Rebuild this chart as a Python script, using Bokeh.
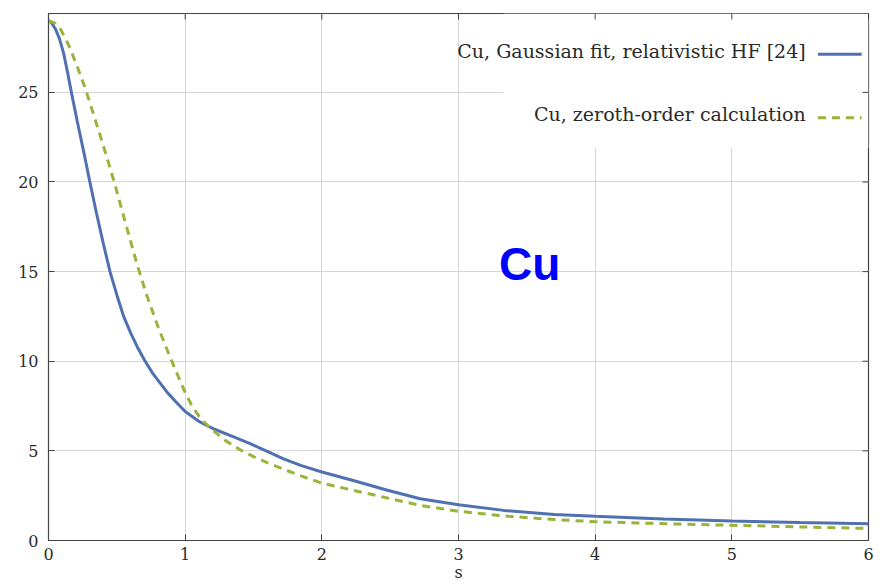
import math
from bokeh.plotting import figure
from bokeh.models import Range1d, FixedTicker, Label, BoxAnnotation
from bokeh.embed import file_html
from bokeh.resources import INLINE

# ---- data ----
s_fit = [0.0, 0.02, 0.05, 0.08, 0.11, 0.14, 0.17, 0.21, 0.26, 0.30, 0.35, 0.40, 0.45,
         0.50, 0.55, 0.60, 0.65, 0.70, 0.76, 0.82, 0.87, 0.93, 1.00, 1.10, 1.21, 1.35,
         1.48, 1.60, 1.72, 1.85, 2.00, 2.23, 2.48, 2.72, 3.00, 3.33, 3.70, 4.00, 4.50,
         5.00, 5.50, 6.00]
f_fit = [29.0, 28.9, 28.55, 28.0, 27.2, 26.1, 24.9, 23.4, 21.6, 20.1, 18.3, 16.6, 15.0,
         13.7, 12.5, 11.6, 10.8, 10.1, 9.35, 8.75, 8.25, 7.75, 7.2, 6.65, 6.22, 5.80,
         5.39, 4.97, 4.55, 4.18, 3.82, 3.35, 2.80, 2.33, 2.00, 1.68, 1.45, 1.35, 1.20,
         1.09, 1.00, 0.94]

s_zero = [0.0, 0.05, 0.09, 0.15, 0.21, 0.27, 0.32, 0.38, 0.44, 0.49, 0.56, 0.65, 0.72,
          0.80, 0.87, 0.93, 1.00, 1.05, 1.10, 1.15, 1.21, 1.30, 1.40, 1.50, 1.60, 1.72,
          1.84, 2.00, 2.23, 2.48, 2.72, 3.00, 3.33, 3.70, 4.00, 4.50, 5.00, 5.50, 6.00]
f_zero = [29.0, 28.85, 28.5, 27.6, 26.45, 25.2, 24.0, 22.55, 21.05, 19.75, 17.8, 15.35,
          13.65, 11.95, 10.6, 9.5, 8.25, 7.5, 6.95, 6.52, 6.1, 5.55, 5.07, 4.68, 4.35,
          3.98, 3.62, 3.2, 2.80, 2.37, 1.96, 1.63, 1.37, 1.17, 1.05, 0.94, 0.85, 0.76,
          0.67]

x_ticks = [0, 1, 2, 3, 4, 5, 6]
y_ticks = [0, 5, 10, 15, 20, 25]
x_max, y_max = 6, 29.4

label_fit = "Cu, Gaussian fit, relativistic HF [24]"
label_zero = "Cu, zeroth-order calculation"
big_label = "Cu"
x_label = "s"

BLUE = "#5071B1"
GREEN = "#98B43A"
AXIS = "#444444"
SERIF = "DejaVu Serif"

p = figure(width=893, height=584, x_range=Range1d(0, x_max), y_range=Range1d(0, y_max),
           output_backend="svg", toolbar_location=None,
           min_border_left=48, min_border_right=25, min_border_top=13, min_border_bottom=42)
p.background_fill_color = "white"
p.border_fill_color = "white"
p.outline_line_color = AXIS
p.outline_line_width = 1.2

xt = FixedTicker(ticks=x_ticks)
yt = FixedTicker(ticks=y_ticks)

for ax, t in ((p.xaxis[0], xt), (p.yaxis[0], yt)):
    ax.ticker = t
    ax.major_tick_in = 6
    ax.major_tick_out = 0
    ax.minor_tick_in = 0
    ax.minor_tick_out = 0
    ax.axis_line_color = AXIS
    ax.major_tick_line_color = AXIS
    ax.major_label_text_font = SERIF
    ax.major_label_text_font_size = "16px"
    ax.major_label_text_color = "#2a2a2a"
p.xaxis[0].major_label_standoff = 7
p.yaxis[0].major_label_standoff = 10
p.xaxis[0].axis_label = x_label
p.xaxis[0].axis_label_text_font = SERIF
p.xaxis[0].axis_label_text_font_style = "normal"
p.xaxis[0].axis_label_text_font_size = "16px"
p.xaxis[0].axis_label_text_color = "#2a2a2a"
p.xaxis[0].axis_label_standoff = 0

p.xgrid.ticker = xt
p.ygrid.ticker = yt
p.grid.grid_line_color = "#d6d6d6"
p.grid.grid_line_width = 1

# white panel behind the legend (hides grid lines)
p.add_layout(BoxAnnotation(left=3.33, bottom=21.9, fill_color="white", fill_alpha=1.0,
                           line_alpha=0, level="glyph"))

p.line(s_fit, f_fit, line_color=BLUE, line_width=3)
p.line(s_zero, f_zero, line_color=GREEN, line_width=3, line_dash="8 6")

# mirrored inward ticks on the top and right frame edges
p.ray(x=x_ticks, y=[y_max] * len(x_ticks), length=6, length_units="screen",
      angle=-math.pi / 2, line_color=AXIS, line_width=1, level="overlay")
p.ray(x=[x_max] * len(y_ticks), y=y_ticks, length=6, length_units="screen",
      angle=math.pi, line_color=AXIS, line_width=1, level="overlay")

# legend (label left, sample right)
p.add_layout(Label(x=5.54, y=27.31, text=label_fit, text_align="right",
                   text_baseline="alphabetic", text_font=SERIF, text_font_size="19px",
                   text_color="#2a2a2a"))
p.add_layout(Label(x=5.54, y=23.78, text=label_zero, text_align="right",
                   text_baseline="alphabetic", text_font=SERIF, text_font_size="19px",
                   text_color="#2a2a2a"))
p.line([5.63, 5.95], [27.13, 27.13], line_color=BLUE, line_width=3, level="overlay")
p.line([5.63, 5.95], [23.59, 23.59], line_color=GREEN, line_width=3, line_dash="8 6",
       level="overlay")

p.add_layout(Label(x=3.52, y=15.45, text=big_label, text_align="center",
                   text_baseline="alphabetic", text_font="Liberation Sans",
                   text_font_style="bold", text_font_size="46px", text_color="#0000FF"))

open("out.html", "w").write(file_html(p, INLINE))
